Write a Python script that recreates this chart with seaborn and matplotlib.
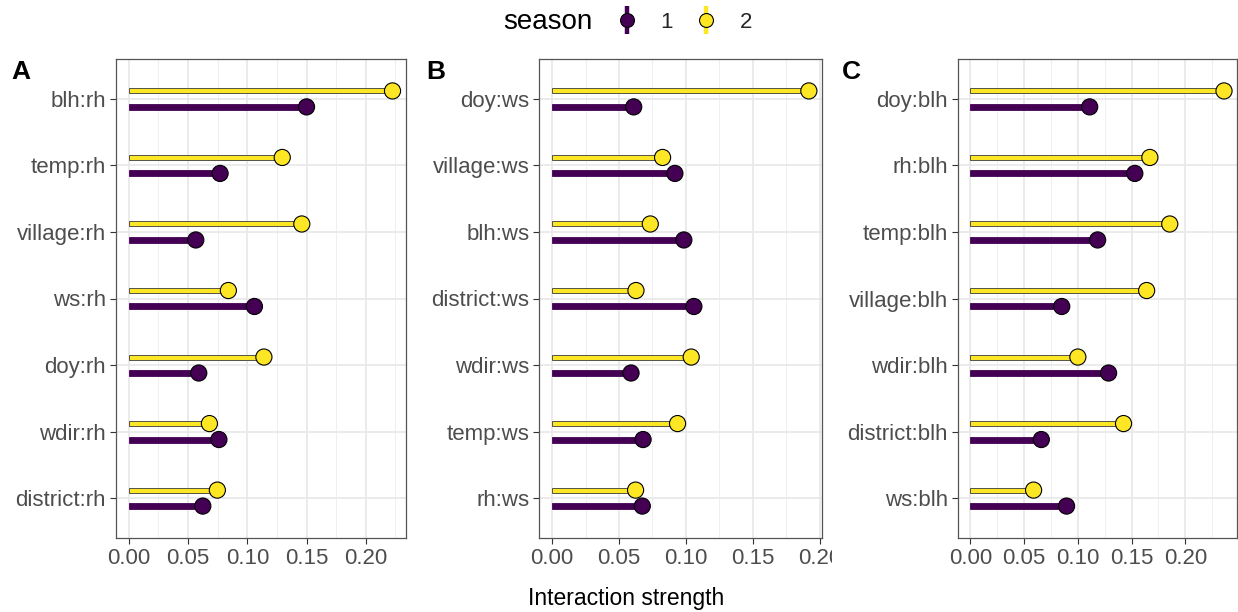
import matplotlib
matplotlib.use("Agg")
import matplotlib.pyplot as plt
import matplotlib.transforms as mtransforms
import numpy as np
import pandas as pd
import seaborn as sns
from matplotlib.lines import Line2D
from matplotlib.legend_handler import HandlerTuple
from matplotlib.ticker import MultipleLocator, FormatStrFormatter

# Interaction strengths per variable pair, by season
pairs_a = ["blh:rh", "temp:rh", "village:rh", "ws:rh", "doy:rh", "wdir:rh", "district:rh"]
season1_a = [0.150, 0.077, 0.0565, 0.106, 0.059, 0.076, 0.0624]
season2_a = [0.2226, 0.1295, 0.146, 0.084, 0.114, 0.068, 0.0747]

pairs_b = ["doy:ws", "village:ws", "blh:ws", "district:ws", "wdir:ws", "temp:ws", "rh:ws"]
season1_b = [0.061, 0.0918, 0.0985, 0.106, 0.059, 0.068, 0.0674]
season2_b = [0.192, 0.0826, 0.0734, 0.0627, 0.104, 0.0938, 0.0624]

pairs_c = ["doy:blh", "rh:blh", "temp:blh", "village:blh", "wdir:blh", "district:blh", "ws:blh"]
season1_c = [0.111, 0.153, 0.1184, 0.085, 0.1286, 0.066, 0.0895]
season2_c = [0.236, 0.167, 0.1855, 0.164, 0.100, 0.1425, 0.0588]

panel_letters = ["A", "B", "C"]
seasons = ["1", "2"]
palette = {"1": "#440154", "2": "#FDE725"}
stem_height = {"1": 0.09, "2": 0.075}
stem_edge = {"1": "#440154", "2": "#3a3a3a"}

sns.set_theme(style="white")
plt.rcParams["font.family"] = ["Liberation Sans", "DejaVu Sans"]

W, H = 1238, 612
fig = plt.figure(figsize=(W / 100, H / 100), dpi=100)

# panel boxes in pixels (left, right) and the strip each panel owns
boxes = [(115.7, 405.7), (539.3, 821.7), (957.7, 1236.7)]
regions = [(0, 418), (418, 832), (832, 1238)]
top_px, bot_px = 59, 538
letter_x = [11, 426, 842]

dodge = 0.12
panels = [
    (pairs_a, season1_a, season2_a),
    (pairs_b, season1_b, season2_b),
    (pairs_c, season1_c, season2_c),
]

for k, ((pairs, s1, s2), (l, r)) in enumerate(zip(panels, boxes)):
    ax = fig.add_axes([l / W, 1 - bot_px / H, (r - l) / W, (bot_px - top_px) / H])
    idx = np.arange(len(pairs))
    df = pd.DataFrame({
        "pair": pairs * 2,
        "strength": list(s1) + list(s2),
        "season": ["1"] * len(pairs) + ["2"] * len(pairs),
        "ypos": list(idx + dodge) + list(idx - dodge),
    })
    # stems
    for s in seasons:
        sub = df[df.season == s]
        ax.barh(sub["ypos"], sub["strength"], height=stem_height[s], left=0,
                color=palette[s], edgecolor=stem_edge[s], linewidth=0.6, zorder=2)
    # heads
    sns.scatterplot(data=df, x="strength", y="ypos", hue="season",
                    palette=palette, s=135, edgecolor="black", linewidth=0.8,
                    legend=False, zorder=3, ax=ax)
    vmax = df["strength"].max()
    pad = 0.05 * vmax
    ax.set_xlim(-pad, vmax + pad)
    ax.set_ylim(len(pairs) - 1 + 0.6, -0.6)
    ax.set_yticks(idx)
    ax.set_yticklabels(pairs)
    ax.xaxis.set_major_locator(MultipleLocator(0.05))
    ax.xaxis.set_minor_locator(MultipleLocator(0.025))
    ax.xaxis.set_major_formatter(FormatStrFormatter("%.2f"))
    ax.set_xlabel("")
    ax.set_ylabel("")
    ax.grid(True, which="major", color="#e8e8e8", linewidth=1.2, zorder=0)
    ax.grid(True, which="minor", axis="x", color="#efefef", linewidth=0.7, zorder=0)
    ax.set_axisbelow(True)
    ax.tick_params(axis="both", which="major", length=4, width=0.8, color="#333333",
                   labelsize=16, labelcolor="#4d4d4d", pad=3,
                   bottom=True, left=True)
    ax.tick_params(axis="x", which="minor", length=0)
    for sp in ax.spines.values():
        sp.set_color("#555555")
        sp.set_linewidth(0.9)
    # tick labels stay inside the panel's own strip
    x0, x1 = regions[k]
    clip = mtransforms.Bbox.from_extents(x0, 0, x1, H)
    for lab in ax.get_xticklabels():
        lab.set_clip_box(clip)
        lab.set_clip_on(True)
    fig.text(letter_x[k] / W, 1 - 79 / H, panel_letters[k], fontsize=19,
             fontweight="bold", ha="left", va="baseline", color="black")

fig.text(626 / W, 1 - 598 / H, "Interaction strength", fontsize=16.5,
         ha="center", va="center", color="black")

# legend
handles = []
for s in seasons:
    bar = Line2D([], [], marker="|", markersize=20, markeredgewidth=3.2,
                 color=palette[s], linestyle="")
    dot = Line2D([], [], marker="o", markersize=10, markerfacecolor=palette[s],
                 markeredgecolor="black", markeredgewidth=0.8, linestyle="")
    handles.append((bar, dot))
fig.text(503 / W, 1 - 22 / H, "season", fontsize=20, ha="left", va="center",
         color="black")
fig.legend(handles, seasons, handler_map={tuple: HandlerTuple(ndivide=1)},
           ncol=2, frameon=False, loc="center left",
           bbox_to_anchor=(616 / W, 1 - 22 / H), fontsize=16,
           handlelength=1.0, handletextpad=1.0, columnspacing=1.0,
           borderaxespad=0, borderpad=0)

fig.savefig("out.png", dpi=100)
